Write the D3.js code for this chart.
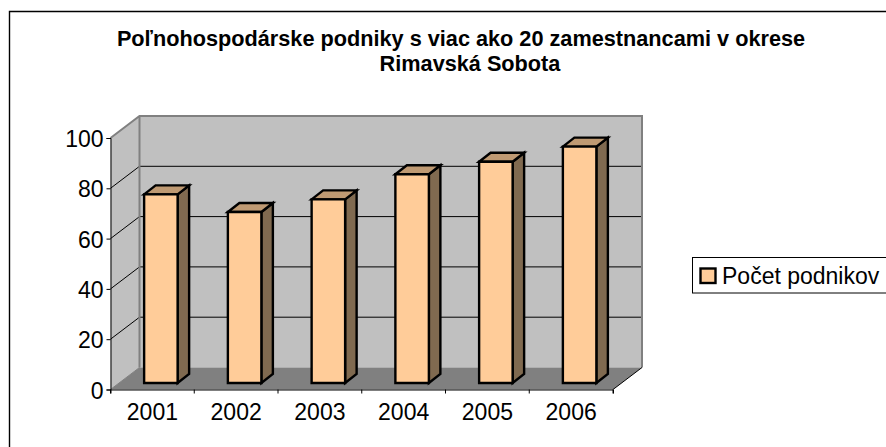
<!DOCTYPE html>
<html><head><meta charset="utf-8">
<script src="https://cdn.jsdelivr.net/npm/d3@7"></script>
<style>html,body{margin:0;padding:0;background:#fff}svg{display:block}text{font-family:"Liberation Sans",Arial,sans-serif;fill:#000}</style>
</head><body><script>
const categories = ["2001","2002","2003","2004","2005","2006"];
const seriesName = "Počet podnikov";
const values = [75,68,73,83,88,94];
const yTicks = [0,20,40,60,80,100];
const titleLines = ["Poľnohospodárske podniky s viac ako 20 zamestnancami v okrese","Rimavská Sobota"];

const W=886,H=447;
const svg=d3.select("body").append("svg").attr("width",W).attr("height",H);
svg.append("path").attr("d",`M${W},11.5H9.5V${H}`).attr("fill","none").attr("stroke","#000").attr("stroke-width",1.4);
titleLines.forEach((t,i)=>svg.append("text").attr("x",i?470:461).attr("y",46+i*24.5).attr("text-anchor","middle").attr("font-weight","bold").attr("font-size",21.7).text(t));

const x=d3.scaleBand().domain(categories).range([110.5,613]);
const y=d3.scaleLinear().domain([0,100]).range([389.5,138]);
const dx=29,dy=-22;
const poly=(pts,fill)=>svg.append("polygon").attr("points",pts.map(p=>p.join(",")).join(" ")).attr("fill",fill);
const L=x.range()[0],R=x.range()[1],B=y(0),T=y(100);
// walls and floor
poly([[L+dx,T+dy],[R+dx,T+dy],[R+dx,B+dy],[L+dx,B+dy]],"#c0c0c0");
poly([[L,T],[L+dx,T+dy],[L+dx,B+dy],[L,B]],"#c0c0c0");
poly([[L,B],[L+dx,B+dy],[R+dx,B+dy],[R,B]],"#808080");
// gridlines
yTicks.filter(d=>d>0&&d<100).forEach(d=>{
  svg.append("path").attr("d",`M${L},${y(d)}L${L+dx},${y(d)+dy}L${R+dx},${y(d)+dy}`).attr("fill","none").attr("stroke","#000").attr("stroke-width",1);
});
// wall outlines
svg.append("path").attr("d",`M${L},${T}L${L+dx},${T+dy}L${R+dx},${T+dy}L${R+dx},${B+dy}M${L+dx},${T+dy}L${L+dx},${B+dy}`).attr("fill","none").attr("stroke","#808080").attr("stroke-width",2);
svg.append("path").attr("d",`M${L},${B}L${L+dx},${B+dy}`).attr("fill","none").attr("stroke","#808080").attr("stroke-width",1);
svg.append("path").attr("d",`M${R},${B}L${R+dx},${B+dy}`).attr("fill","none").attr("stroke","#000").attr("stroke-width",1);

// bars
const bw=x.bandwidth()*0.4, ox=8.5, oy=-6.5, sx=11.5, sy=-9;
const g=svg.append("g").attr("stroke","#000").attr("stroke-width",2.4).attr("stroke-linejoin","miter");
categories.forEach((c,i)=>{
  const x0=x(c)+x.bandwidth()/2-bw/2+ox, x1=x0+bw, yb=y(0)+oy, yt=y(values[i])+oy;
  const pl=(pts,f)=>g.append("polygon").attr("points",pts.map(p=>p.join(",")).join(" ")).attr("fill",f);
  pl([[x1,yt],[x1+sx,yt+sy],[x1+sx,yb+sy],[x1,yb]],"#806a50");
  pl([[x0,yt],[x0+sx,yt+sy],[x1+sx,yt+sy],[x1,yt]],"#bf9a73");
  pl([[x0,yt],[x1,yt],[x1,yb],[x0,yb]],"#ffcc99");
});

// axes
const ya=d3.axisLeft(y).tickValues(yTicks).tickSize(4).tickPadding(3);
const gy=svg.append("g").attr("transform",`translate(${L},0)`).call(ya);
gy.selectAll("text").attr("dy","0.37em");
const xa=d3.axisBottom(x).tickSize(4).tickSizeOuter(4).tickPadding(10);
const gx=svg.append("g").attr("transform",`translate(0,${B})`).call(xa);
gx.selectAll(".tick line").attr("transform",`translate(${-x.bandwidth()/2},0)`);
gx.append("line").attr("x1",R).attr("x2",R).attr("y1",0).attr("y2",4).attr("stroke","#000");
[gy,gx].forEach(a=>{a.selectAll("path").attr("stroke","#000");a.selectAll("text").attr("font-size",23).attr("font-family",'"Liberation Sans",Arial,sans-serif').attr("fill","#000");});

// legend
svg.append("rect").attr("x",692.5).attr("y",257.5).attr("width",W).attr("height",35.5).attr("fill","#fff").attr("stroke","#000");
svg.append("rect").attr("x",700.5).attr("y",268.5).attr("width",15).attr("height",14.5).attr("fill","#ffcc99").attr("stroke","#000").attr("stroke-width",2.4);
svg.append("text").attr("x",722).attr("y",284).attr("font-size",23).text(seriesName);
</script></body></html>
